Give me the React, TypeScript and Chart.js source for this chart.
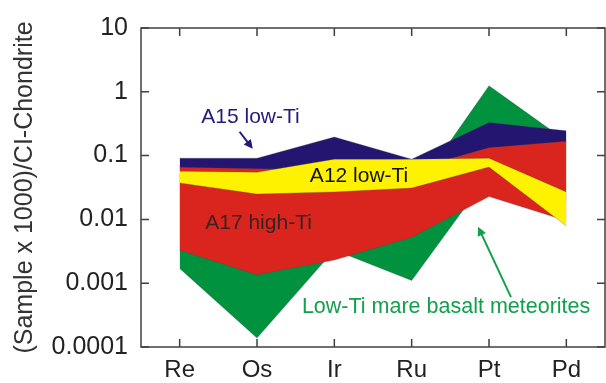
import React, { useEffect, useRef } from "react";
import { Chart, registerables } from "chart.js";

Chart.register(...registerables);

// ---- data ----
const categories = ["Re", "Os", "Ir", "Ru", "Pt", "Pd"];

const lowTiMeteoritesMin = [0.0017, 0.000138, 0.0033, 0.0011, 0.05, 0.02];
const lowTiMeteoritesMax = [0.05, 0.03, 0.04, 0.023, 1.24, 0.17];

const a15LowTiMin = [0.06, 0.06, 0.06, 0.06, 0.13, 0.16];
const a15LowTiMax = [0.091, 0.091, 0.196, 0.088, 0.33, 0.245];

const a17HighTiMin = [0.00327, 0.00135, 0.0023, 0.0052, 0.0228, 0.0095];
const a17HighTiMax = [0.0656, 0.062, 0.06, 0.06, 0.133, 0.168];

const a12LowTiMin = [0.0373, 0.0249, 0.027, 0.031, 0.066, 0.0079];
const a12LowTiMax = [0.057, 0.055, 0.088, 0.088, 0.091, 0.027];

const yTickValues = [10, 1, 0.1, 0.01, 0.001, 0.0001];
const yTickLabels = ["10", "1", "0.1", "0.01", "0.001", "0.0001"];

const yAxisTitle = "(Sample x 1000)/CI-Chondrite";

// annotation labels: [text, category position, value, colour]
const labelTexts = ["A15 low-Ti", "A12 low-Ti", "A17 high-Ti", "Low-Ti mare basalt meteorites"];
const labelX = [0.916, 2.32, 1.02, 3.445];
const labelY = [0.395, 0.0467, 0.00857, 0.000426];
const labelColors = ["#251a78", "#111111", "#3a2222", "#12a04e"];

// arrows: from -> to (category position, value)
const arrowFromX = [0.775, 4.284];
const arrowFromY = [0.2366, 0.000605];
const arrowToX = [0.945, 3.858];
const arrowToY = [0.1277, 0.0077];
const arrowColors = ["#251a78", "#12a04e"];

const FONT = "'Liberation Sans', Arial, Helvetica, sans-serif";

const GREEN = "#00923f";
const BLUE = "#241670";
const RED = "#d9251d";
const YELLOW = "#fff200";

function band(lo: number[], hi: number[], color: string, order: number) {
  const common = {
    pointRadius: 0,
    pointHoverRadius: 0,
    borderWidth: 0.6,
    borderColor: "rgba(70,70,70,0.45)",
    tension: 0,
    order,
  };
  return [
    { ...common, label: "lo", data: lo, fill: false, backgroundColor: color },
    { ...common, label: "hi", data: hi, fill: "-1", backgroundColor: color },
  ];
}

const framePlugin = {
  id: "frameAndNotes",
  afterDraw(chart: any) {
    const { ctx, chartArea } = chart;
    const xs = chart.scales.x;
    const ys = chart.scales.y;
    const { left, right, top, bottom } = chartArea;
    ctx.save();
    // annotations
    ctx.textAlign = "center";
    ctx.textBaseline = "middle";
    labelTexts.forEach((t, i) => {
      ctx.fillStyle = labelColors[i];
      const size = i === 3 ? 21.5 : 21;
      ctx.font = `${size}px ${FONT}`;
      ctx.fillText(t, xs.getPixelForValue(labelX[i]), ys.getPixelForValue(labelY[i]));
    });
    // arrows
    arrowFromX.forEach((_, i) => {
      const x1 = xs.getPixelForValue(arrowFromX[i]);
      const y1 = ys.getPixelForValue(arrowFromY[i]);
      const x2 = xs.getPixelForValue(arrowToX[i]);
      const y2 = ys.getPixelForValue(arrowToY[i]);
      const ang = Math.atan2(y2 - y1, x2 - x1);
      const hl = 9;
      const hw = 4.5;
      ctx.strokeStyle = arrowColors[i];
      ctx.fillStyle = arrowColors[i];
      ctx.lineWidth = 2;
      ctx.beginPath();
      ctx.moveTo(x1, y1);
      ctx.lineTo(x2 - Math.cos(ang) * hl * 0.8, y2 - Math.sin(ang) * hl * 0.8);
      ctx.stroke();
      ctx.beginPath();
      ctx.moveTo(x2, y2);
      ctx.lineTo(
        x2 - Math.cos(ang) * hl - Math.sin(ang) * hw,
        y2 - Math.sin(ang) * hl + Math.cos(ang) * hw
      );
      ctx.lineTo(
        x2 - Math.cos(ang) * hl + Math.sin(ang) * hw,
        y2 - Math.sin(ang) * hl - Math.cos(ang) * hw
      );
      ctx.closePath();
      ctx.fill();
    });
    // frame
    ctx.strokeStyle = "#404040";
    ctx.lineWidth = 1.5;
    ctx.strokeRect(left, top, right - left, bottom - top);
    const tl = 8;
    ctx.beginPath();
    categories.forEach((_, i) => {
      const px = xs.getPixelForValue(i);
      ctx.moveTo(px, bottom);
      ctx.lineTo(px, bottom - tl);
      ctx.moveTo(px, top);
      ctx.lineTo(px, top + tl);
    });
    yTickValues.forEach((v) => {
      const py = ys.getPixelForValue(v);
      ctx.moveTo(left, py);
      ctx.lineTo(left + tl, py);
      ctx.moveTo(right, py);
      ctx.lineTo(right - tl, py);
    });
    ctx.stroke();
    ctx.restore();
  },
};

export default function App() {
  const ref = useRef<HTMLCanvasElement | null>(null);
  useEffect(() => {
    document.body.style.margin = "0";
    const canvas = ref.current;
    if (!canvas) return;
    const chart = new Chart(canvas, {
      type: "line",
      data: {
        labels: categories,
        datasets: [
          ...band(lowTiMeteoritesMin, lowTiMeteoritesMax, GREEN, 4),
          ...band(a15LowTiMin, a15LowTiMax, BLUE, 3),
          ...band(a17HighTiMin, a17HighTiMax, RED, 2),
          ...band(a12LowTiMin, a12LowTiMax, YELLOW, 1),
        ] as any,
      },
      options: {
        animation: false,
        responsive: false,
        devicePixelRatio: 1,
        layout: { padding: { top: 21, right: 1, left: 0, bottom: 0 } },
        plugins: {
          legend: { display: false },
          tooltip: { enabled: false },
        },
        events: [],
        scales: {
          x: {
            type: "category",
            offset: true,
            grid: { display: false, drawTicks: false },
            border: { display: false },
            ticks: {
              color: "#222",
              font: { family: FONT, size: 24 },
              padding: 9,
              maxRotation: 0,
              autoSkip: false,
            },
            afterFit: (axis: any) => {
              axis.height = 36;
            },
          },
          y: {
            type: "logarithmic",
            min: 0.0001,
            max: 10,
            grid: { display: false, drawTicks: false },
            border: { display: false },
            afterBuildTicks: (axis: any) => {
              axis.ticks = yTickValues.map((v) => ({ value: v }));
            },
            ticks: {
              color: "#222",
              font: { family: FONT, size: 25 },
              padding: 13,
              autoSkip: false,
              callback: (value: any) => {
                const i = yTickValues.findIndex((v) => Math.abs(v - Number(value)) < v * 1e-6);
                return i >= 0 ? yTickLabels[i] : "";
              },
            },
            title: {
              display: true,
              text: yAxisTitle,
              color: "#333",
              font: { family: FONT, size: 25 },
              padding: { top: 10, bottom: 0 },
            },
            afterFit: (axis: any) => {
              axis.width = 141;
            },
          },
        },
      },
      plugins: [framePlugin],
    });
    return () => chart.destroy();
  }, []);
  return (
    <div style={{ position: "fixed", left: 0, top: 0, width: 606, height: 383, background: "#fff" }}>
      <canvas ref={ref} width={606} height={383} style={{ display: "block" }} />
    </div>
  );
}
